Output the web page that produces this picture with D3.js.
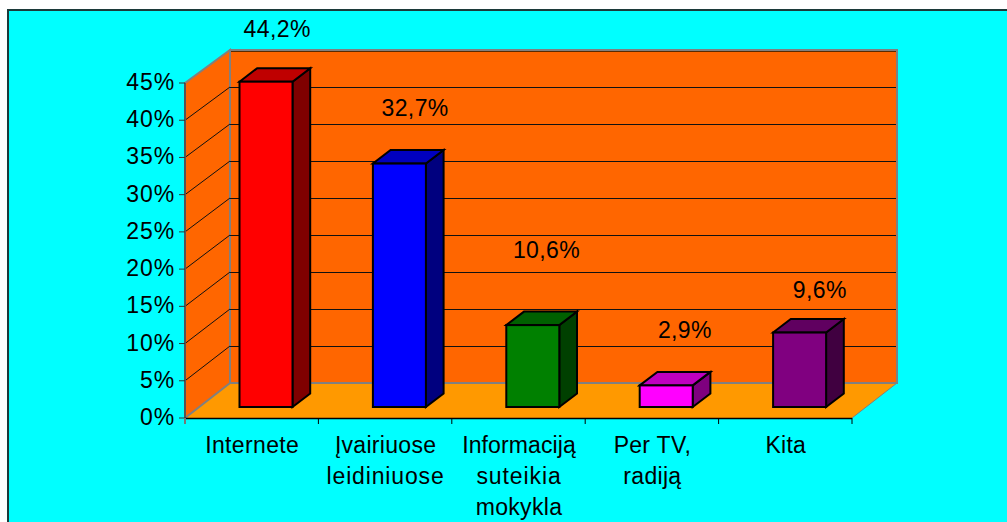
<!DOCTYPE html>
<html><head><meta charset="utf-8">
<script src="https://cdn.jsdelivr.net/npm/d3@7"></script>
<style>html,body{margin:0;padding:0;background:#fff}svg{display:block}text{font-family:"Liberation Sans",Arial,sans-serif;font-size:23px;fill:#000}</style>
</head><body><svg id="c" width="1007" height="522"></svg>
<script>
const categories = [["Internete"],["Įvairiuose","leidiniuose"],["Informaciją","suteikia","mokykla"],["Per TV,","radiją"],["Kita"]];
const barValues = [43.7,32.7,11.0,2.9,10.0];
const valueLabels = ["44,2%","32,7%","10,6%","2,9%","9,6%"];
const yTicks = [0,5,10,15,20,25,30,35,40,45];
const frontColors = ["#ff0000","#0000ff","#008000","#ff00ff","#800080"];
const topColors = ["#bf0000","#0000bf","#006000","#bf00bf","#600060"];
const sideColors = ["#7f0000","#00007f","#004000","#7f007f","#400040"];
// manual label placement in the original chart (dx from band centre, baseline y)
const labelPlace = [[25.5,37],[30,116],[28,258],[33,338],[34.5,298]];
const catSpacing = [[.35],[.3,.85],[.1,.9,.3],[.3,.3],[.2]];

const svg = d3.select("#c");
svg.append("rect").attr("x",8).attr("y",10).attr("width",1000).attr("height",513)
  .attr("fill","#00ffff").attr("stroke","#1c3a3a").attr("stroke-width",2);

const x = d3.scaleBand().domain(d3.range(categories.length)).range([185,852]);
const y = d3.scaleLinear().domain([0,45]).range([418,83]);
const yBack = d3.scaleLinear().domain([0,45]).range([383,50]);
const DX=45;
const line = d3.line();

// floor and walls
svg.append("path").attr("d",line([[185,y(0)],[185+DX,yBack(0)],[852+DX,yBack(0)],[852,y(0)]])+"Z").attr("fill","#ff9900");
svg.append("path").attr("d",line([[185,y(0)],[185+DX,yBack(0)],[185+DX,yBack(45)],[185,y(45)]])+"Z")
  .attr("fill","#ff6600").attr("stroke","#808080").attr("stroke-width",2);
svg.append("path").attr("d",line([[185+DX,yBack(0)],[185+DX,yBack(45)],[852+DX,yBack(45)],[852+DX,yBack(0)]])+"Z")
  .attr("fill","#ff6600").attr("stroke","#808080").attr("stroke-width",2);
svg.append("path").attr("d",line([[852,y(0)],[852+DX,yBack(0)]])).attr("stroke","#808080").attr("stroke-width",1).attr("fill","none");

// gridlines
yTicks.slice(1,-1).forEach(t=>{
  svg.append("path").attr("d",line([[185,y(t)],[185+DX,yBack(t)]])).attr("stroke","#111").attr("fill","none");
  svg.append("path").attr("d",line([[185+DX,yBack(t)+.5],[852+DX-1,yBack(t)+.5]])).attr("stroke","#111").attr("fill","none");
});
svg.append("path").attr("d",line([[185+DX+1,yBack(45)+1.5],[852+DX-1,yBack(45)+1.5]])).attr("stroke","#5a2a00").attr("fill","none");

// bars
const bd=14.3, bw=53, dpx=17.7, dpy=13.5, by=y(0)-11;
barValues.forEach((v,i)=>{
  const cx=x(i)+x.bandwidth()/2+bd;
  const l=cx-bw/2, r=cx+bw/2, t=by-(y(0)-y(v));
  const g=svg.append("g").attr("stroke","#000").attr("stroke-width",2).attr("stroke-linejoin","miter");
  g.append("path").attr("d",line([[r,by],[r+dpx,by-dpy],[r+dpx,t-dpy],[r,t]])+"Z").attr("fill",sideColors[i]);
  g.append("path").attr("d",line([[l,t],[l+dpx,t-dpy],[r+dpx,t-dpy],[r,t]])+"Z").attr("fill",topColors[i]);
  g.append("rect").attr("x",l).attr("y",t).attr("width",bw).attr("height",by-t).attr("fill",frontColors[i]);
});

// axes
svg.append("path").attr("d",line([[185,y(0)],[185,y(45)]])).attr("stroke","#555").attr("stroke-width",2).attr("fill","none");
svg.append("path").attr("d",line([[185,y(0)+.5],[852,y(0)+.5]])).attr("stroke","#000").attr("stroke-width",1.5).attr("fill","none");
yTicks.forEach(t=>{
  svg.append("path").attr("d",line([[179,y(t)],[185,y(t)]])).attr("stroke","#333").attr("fill","none");
  svg.append("text").attr("x",175).attr("y",y(t)+7).attr("text-anchor","end").attr("letter-spacing",.9).text(t+"%");
});
d3.range(categories.length+1).forEach(i=>{
  const px=i<categories.length?x(i):852;
  svg.append("path").attr("d",line([[px,y(0)],[px,y(0)+6]])).attr("stroke",i?"#000":"#777").attr("stroke-width",i?1:2).attr("fill","none");
});

// category labels
categories.forEach((lines,i)=>{
  lines.forEach((s,j)=>{
    svg.append("text").attr("x",x(i)+x.bandwidth()/2+.5).attr("y",453+j*31).attr("text-anchor","middle")
      .attr("letter-spacing",catSpacing[i][j]).text(s);
  });
});

// value labels
valueLabels.forEach((s,i)=>{
  svg.append("text").attr("x",x(i)+x.bandwidth()/2+labelPlace[i][0]).attr("y",labelPlace[i][1]).attr("text-anchor","middle")
    .attr("letter-spacing",.4).text(s);
});
</script></body></html>
